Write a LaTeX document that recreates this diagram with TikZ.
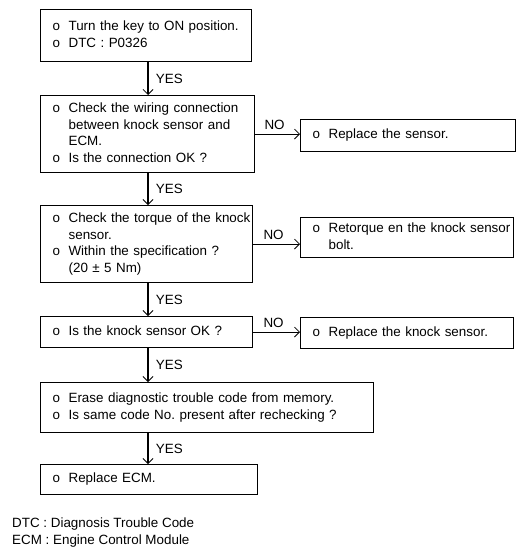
\documentclass[tikz,border=0pt]{standalone}
\usepackage{fontspec}
\setmainfont{Liberation Sans}
\usetikzlibrary{arrows.meta}
\frenchspacing
\newcommand{\myfont}{\fontsize{13.4}{16.5}\selectfont}
\tikzset{
  box/.style={draw, line width=1.2pt, anchor=north west, inner xsep=12pt, inner ysep=0pt,
    align=left, font=\myfont},
  arr/.style={line width=1.2pt, -{Straight Barb[length=5pt,width=10pt,line width=0.8pt]}},
  yes/.style={anchor=west, font=\myfont, xshift=4pt},
  no/.style={anchor=south, font=\myfont, yshift=1pt, xshift=-3pt},
}
\newenvironment{blist}{\begin{tabular}{@{}p{16pt}@{}l@{}}}{\end{tabular}}
\begin{document}
\begin{tikzpicture}[x=1pt,y=-1pt]
\useasboundingbox (0,0) rectangle (527,554);
\coordinate (col) at (148,0);
\node[box, minimum width=211pt, minimum height=52pt, text width=187pt] (b1) at (40,9)
  {\begin{blist}o & Turn the key to ON position.\\ o & DTC : P0326\end{blist}};
\node[box, minimum width=214pt, minimum height=77pt, text width=190pt] (b2) at (40,95)
  {\begin{blist}o & Check the wiring connection\\ & between knock sensor and\\ & ECM.\\ o & Is the connection OK ?\end{blist}};
\node[box, minimum width=215pt, minimum height=32pt, text width=191pt] (r1) at (300,119)
  {\begin{blist}o & Replace the sensor.\end{blist}};
\node[box, minimum width=212pt, minimum height=77pt, text width=188pt] (b3) at (40,205)
  {\begin{blist}o & Check the torque of the knock\\ & sensor.\\ o & Within the specification ?\\ & (20 ± 5 Nm)\end{blist}};
\node[box, minimum width=213pt, minimum height=40pt, text width=189pt] (r2) at (300,217)
  {\begin{blist}o & Retorque en the knock sensor\\ & bolt.\end{blist}};
\node[box, minimum width=212pt, minimum height=31pt, text width=188pt] (b4) at (40,316)
  {\begin{blist}o & Is the knock sensor OK ?\end{blist}};
\node[box, minimum width=213pt, minimum height=31pt, text width=189pt] (r3) at (300,317)
  {\begin{blist}o & Replace the knock sensor.\end{blist}};
\node[box, minimum width=333pt, minimum height=50pt, text width=309pt] (b5) at (40,382)
  {\begin{blist}o & Erase diagnostic trouble code from memory.\\ o & Is same code No.\ present after rechecking ?\end{blist}};
\node[box, minimum width=217pt, minimum height=30pt, text width=193pt] (b6) at (40,464)
  {\begin{blist}o & Replace ECM.\end{blist}};

\foreach \a/\b in {b1/b2, b2/b3, b3/b4, b4/b5, b5/b6}{
  \draw[arr] (\a.south -| col) -- node[yes]{YES} (\b.north -| col);
}
\foreach \a/\b in {b2/r1, b3/r2, b4/r3}{
  \draw[arr] (\a.east) -- node[no]{NO} (\a.east -| \b.west);
}
\node[anchor=west, font=\myfont, inner sep=0pt] (f1) at (12,524) {DTC : Diagnosis Trouble Code};
\node[anchor=west, font=\myfont, inner sep=0pt] (f2) at (12,541) {ECM : Engine Control Module};
\end{tikzpicture}
\end{document}
